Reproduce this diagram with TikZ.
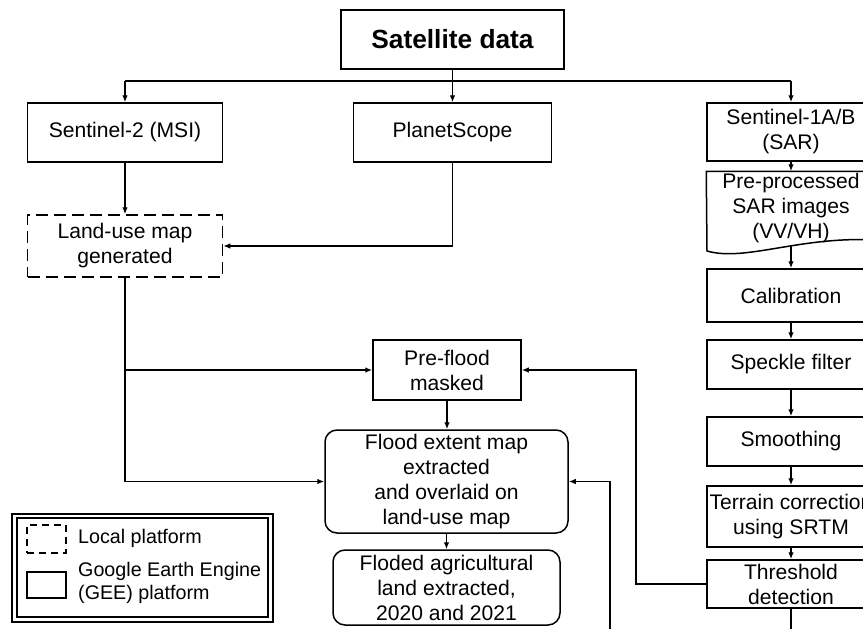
\documentclass[tikz,border=0pt]{standalone}
\usepackage{fontspec}
\setmainfont{Liberation Sans}
\usetikzlibrary{arrows.meta}
\begin{document}
\begin{tikzpicture}[x=1pt,y=-1pt,
  box/.style={draw,line width=1.5pt,inner sep=0pt,align=center,font=\fontsize{21.1}{25}\selectfont},
  arr/.style={line width=1.3pt,-{Latex[length=7pt,width=5.5pt]}},
  ln/.style={line width=1.3pt},
  legtext/.style={inner sep=0pt,anchor=west,align=left,font=\fontsize{19.7}{23}\selectfont}]
\useasboundingbox (0,0) rectangle (863,629);
\clip (0,0) rectangle (863,629);
\fill[white] (0,0) rectangle (863,629);

% nodes
\node[box,font=\bfseries\fontsize{26.3}{30}\selectfont,minimum width=223pt,minimum height=59pt] (sat) at (452.5,39.5) {Satellite data};
\node[box,minimum width=195pt,minimum height=59pt] (s2) at (125,132.5) {Sentinel-2 (MSI)};
\node[box,minimum width=198pt,minimum height=59pt] (ps) at (452.5,132.5) {PlanetScope};
\node[box,minimum width=168pt,minimum height=58pt] (s1) at (791,132) {Sentinel-1A/B\\(SAR)};
\node[box,draw=none,minimum width=168pt,minimum height=72pt] (pre) at (791,208) {Pre-processed\\SAR images\\(VV/VH)};
\draw[line width=1.5pt] (707,251) -- (pre.north west) -- (pre.north east) -- (875,240)
  .. controls (800,236) and (745,262) .. (707,251) -- cycle;
\coordinate (prebot) at (791,246);
\node[box,minimum width=168pt,minimum height=53pt] (cal) at (791,295.5) {Calibration};
\node[box,minimum width=168pt,minimum height=49pt] (spk) at (791,364.5) {Speckle filter};
\node[box,minimum width=168pt,minimum height=49pt] (smo) at (791,441.5) {Smoothing};
\node[box,minimum width=168pt,minimum height=61pt] (ter) at (791,516.5) {Terrain correction\\using SRTM};
\node[box,minimum width=168pt,minimum height=48pt] (thr) at (791,584) {Threshold\\detection};
\node[box,dash pattern=on 12pt off 6pt,minimum width=195pt,minimum height=62pt] (lu) at (125,246) {Land-use map\\generated};
\node[box,minimum width=148pt,minimum height=60pt] (pf) at (447,370) {Pre-flood\\masked};
\node[box,rounded corners=12pt,minimum width=243pt,minimum height=103pt] (fl) at (446.5,481.5) {Flood extent map\\extracted\\and overlaid on\\land-use map};
\node[box,rounded corners=12pt,minimum width=227pt,minimum height=75pt] (fa) at (446.5,587.5) {Floded agricultural\\land extracted,\\2020 and 2021};

% legend
\draw[line width=1.2pt] (12,514) rectangle (273,622);
\draw[line width=1.2pt] (17,518) rectangle (268,617);
\node[draw,dash pattern=on 7pt off 5pt,line width=1.5pt,minimum width=39pt,minimum height=28pt,inner sep=0pt] (legloc) at (46.5,539) {};
\node[draw,line width=1.5pt,minimum width=39pt,minimum height=26pt,inner sep=0pt] (leggee) at (46.5,585) {};
\node[legtext] (legloct) at (78,538) {Local platform};
\node[legtext] (leggeet) at (78,583) {Google Earth Engine\\(GEE) platform};

% connectors
\coordinate (hub) at (452.5,81);
\draw[arr] (sat.south) -- (ps.north);
\draw[ln] (s2.north |- hub) -- (s1.north |- hub);
\draw[arr] (s2.north |- hub) -- (s2.north);
\draw[arr] (s1.north |- hub) -- (s1.north);
\draw[arr] (s2.south) -- (lu.north);
\draw[arr] (ps.south) |- (lu.east);
\draw[arr] (lu.south) |- (fl.west);
\draw[arr] (lu.south |- pf.west) -- (pf.west);
\draw[arr] (s1.south) -- (pre.north);
\draw[arr] (prebot) -- (cal.north);
\draw[arr] (cal.south) -- (spk.north);
\draw[arr] (spk.south) -- (smo.north);
\draw[arr] (smo.south) -- (ter.north);
\draw[arr] (ter.south) -- (thr.north);
\draw[arr] (pf.south) -- (pf.south |- fl.north);
\draw[arr] (fl.south) -- (fa.north);
\coordinate (k1) at (636,0);
\draw[arr] (thr.west) -| (k1 |- pf.east) -- (pf.east);
\coordinate (offb) at (791,640);
\draw[ln] (thr.south) -- (offb);
\coordinate (k2) at (610,640);
\draw[arr] (k2) |- (fl.east);
\end{tikzpicture}
\end{document}
